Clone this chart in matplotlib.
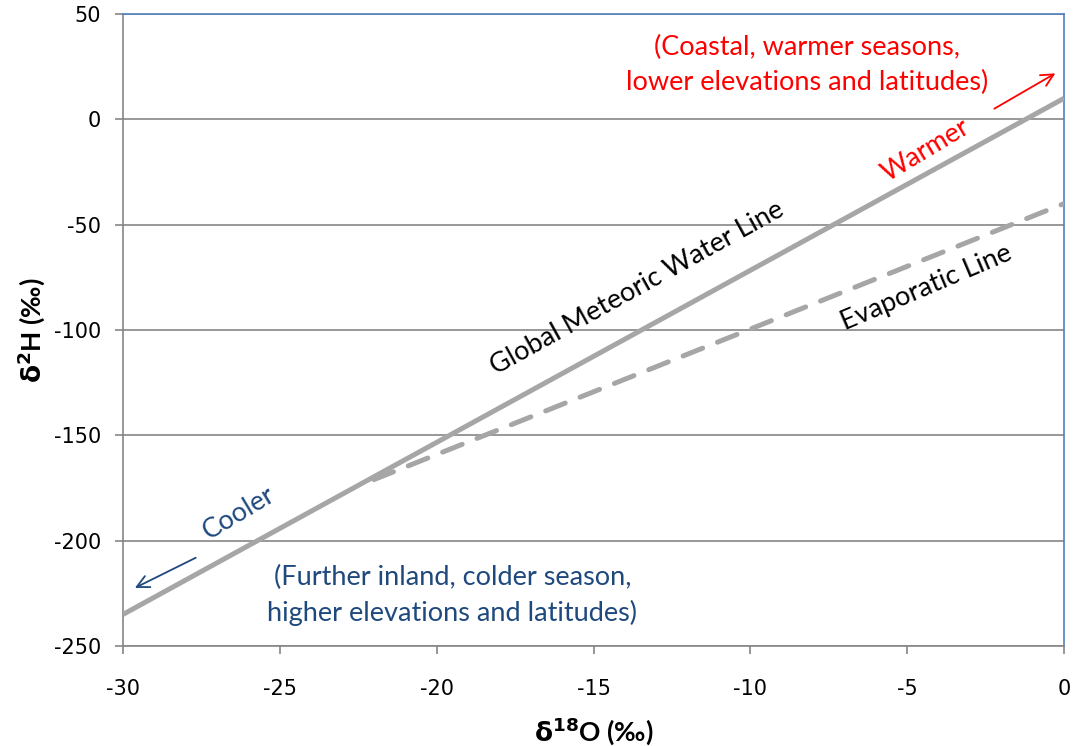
import matplotlib
matplotlib.use("Agg")
import matplotlib.pyplot as plt

plt.rcParams["axes.unicode_minus"] = False

# end points of the two reference lines (delta18O, delta2H in permil)
gmwl_x = [-30, 0]
gmwl_y = [-235, 10]
evap_x = [-22, 0]
evap_y = [-171, -40]

x_ticks = [-30, -25, -20, -15, -10, -5, 0]
y_ticks = [-250, -200, -150, -100, -50, 0, 50]

LINE_GREY = "#a6a6a6"
GRID_GREY = "#868686"
FRAME_BLUE = "#4f81bd"
WARM_RED = "#ff0000"
COOL_BLUE = "#1f497d"
TXT_FONT = ["Lato", "DejaVu Sans"]
FS = 19.5

fig = plt.figure(figsize=(10.75, 7.46), dpi=100)
ax = fig.add_axes([0.1144, 0.134, 0.8754, 0.8472])

ax.plot(gmwl_x, gmwl_y, color=LINE_GREY, linewidth=3.6, solid_capstyle="butt", zorder=3)
ax.plot(evap_x, evap_y, color=LINE_GREY, linewidth=3.6, linestyle=(0, (4.2, 3.2)),
        dash_capstyle="round", zorder=3)

ax.set_xlim(-30, 0)
ax.set_ylim(-250, 50)
ax.set_xticks(x_ticks)
ax.set_yticks(y_ticks)
ax.yaxis.grid(True, color=GRID_GREY, linewidth=1.2)
ax.set_axisbelow(True)
ax.tick_params(axis="both", direction="out", length=6, width=1.2, color=GRID_GREY,
               labelsize=15)
ax.tick_params(axis="x", pad=18)
ax.tick_params(axis="y", pad=10)
for side in ["left", "bottom"]:
    ax.spines[side].set_color(GRID_GREY)
    ax.spines[side].set_linewidth(1.2)
for side in ["top", "right"]:
    ax.spines[side].set_color(FRAME_BLUE)
    ax.spines[side].set_linewidth(1.2)

ax.set_xlabel(r"$\mathbf{\delta}^{\mathbf{18}}$O (‰)", fontsize=19, fontweight="bold",
              family=TXT_FONT, labelpad=11)
ax.set_ylabel(r"$\mathbf{\delta}^{\mathbf{2}}$H (‰)", fontsize=19, fontweight="bold",
              family=TXT_FONT, labelpad=5)

# labels along the lines
ax.text(-13.6, -80, "Global Meteoric Water Line", rotation=29, fontsize=FS,
        family=TXT_FONT, ha="center", va="center", rotation_mode="anchor")
ax.text(-4.4, -80, "Evaporatic Line", rotation=23, fontsize=FS,
        family=TXT_FONT, ha="center", va="center", rotation_mode="anchor")
ax.text(-4.4, -14.5, "Warmer", rotation=31, fontsize=FS, color=WARM_RED,
        family=TXT_FONT, ha="center", va="center", rotation_mode="anchor")
ax.text(-26.3, -187, "Cooler", rotation=31, fontsize=FS, color=COOL_BLUE,
        family=TXT_FONT, ha="center", va="center", rotation_mode="anchor")

# direction arrows and explanations
ax.annotate("", xy=(-0.2, 22.5), xytext=(-2.3, 4.4),
            arrowprops=dict(arrowstyle="->", color=WARM_RED, lw=1.3, mutation_scale=22))
ax.annotate("", xy=(-29.7, -223), xytext=(-27.6, -207.5),
            arrowprops=dict(arrowstyle="->", color=COOL_BLUE, lw=1.3, mutation_scale=22))
ax.text(-8.2, 26.0, "(Coastal, warmer seasons,\nlower elevations and latitudes)",
        fontsize=FS, color=WARM_RED, family=TXT_FONT, ha="center", va="center",
        linespacing=1.5)
ax.text(-19.5, -226.0, "(Further inland, colder season,\nhigher elevations and latitudes)",
        fontsize=FS, color=COOL_BLUE, family=TXT_FONT, ha="center", va="center",
        linespacing=1.5)

fig.savefig("out.png", dpi=100)
